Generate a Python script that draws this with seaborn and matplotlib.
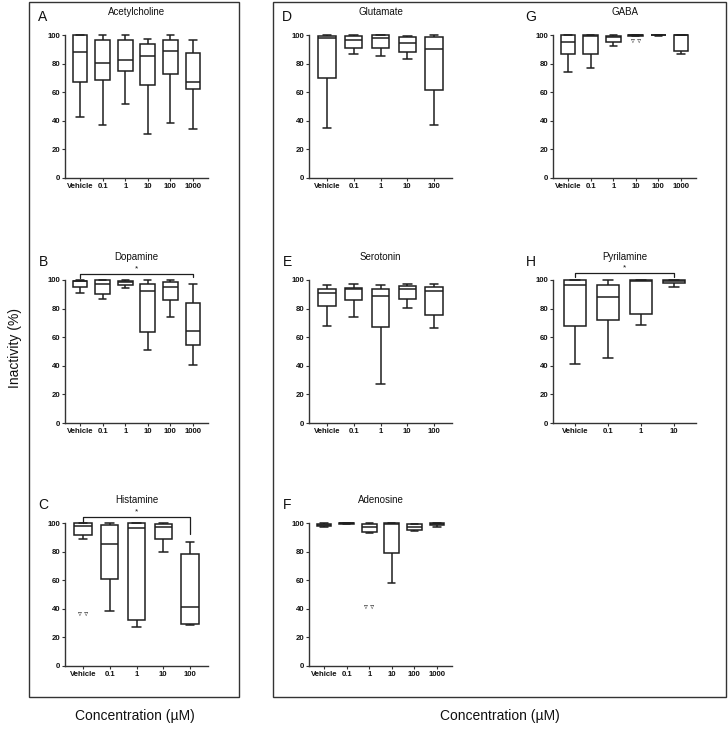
import numpy as np
import pandas as pd
import matplotlib
matplotlib.use("Agg")
import matplotlib.pyplot as plt
import seaborn as sns
from matplotlib.patches import Rectangle

sns.set_theme(style="ticks")
plt.rcParams['font.family'] = ['Liberation Sans', 'DejaVu Sans']

# ---------------- data (min, Q1, median, Q3, max) ----------------
conc6 = ["Vehicle", "0.1", "1", "10", "100", "1000"]
conc5 = conc6[:5]
conc4 = conc6[:4]

acetylcholine = [[43, 67, 88.4, 100, 100], [37, 68.4, 80.5, 96.5, 100],
                 [52, 75, 82.2, 96.3, 100], [31, 65, 85.5, 94, 97.5],
                 [38.5, 73, 88.5, 96.7, 100], [34, 62, 67, 87.3, 96.7]]
dopamine = [[90.9, 95.3, 99, 99.6, 100], [87, 90.5, 97, 100, 100],
            [94.3, 96.5, 98.8, 99.5, 100], [50.7, 63.3, 92.6, 97.2, 100],
            [74, 86.3, 95.3, 98.8, 100], [40.3, 54.3, 64.3, 84.2, 97.4]]
histamine = [[88.8, 91.5, 98, 100, 100], [38.5, 61, 85, 98.5, 100],
             [27.5, 32.5, 96.3, 100, 100], [79.8, 88.5, 97, 99.5, 100],
             [28.5, 29.6, 41.5, 78.3, 87]]
glutamate = [[35, 69.6, 98.2, 99.5, 100], [86.5, 90.7, 96.2, 99, 100],
             [85, 91, 97.8, 100, 100], [83.5, 88.3, 94.2, 98.4, 99.6],
             [37.2, 61.3, 90, 98.4, 100]]
serotonin = [[67.5, 81.9, 91, 94, 96.2], [74, 86, 93.8, 94.3, 97],
             [27, 67, 88.6, 94, 96.5], [80.3, 87, 94, 95.5, 97],
             [66.2, 75.8, 92.5, 95.4, 97]]
adenosine = [[96.9, 97.9, 98.8, 99.5, 100], [99, 99.4, 99.7, 100, 100],
             [93.2, 93.5, 97.5, 99.2, 100], [58, 79, 99.2, 99.7, 100],
             [94.6, 95.2, 97.2, 99, 99.5], [97, 98.7, 99.3, 99.7, 100]]
gaba = [[73.8, 87, 94.8, 100, 100], [76.8, 87, 99.6, 100, 100],
        [92, 95.4, 98.6, 99.6, 100], [99.5, 99.6, 99.8, 100, 100],
        [99.6, 99.7, 99.8, 100, 100], [86.5, 89, 100, 100, 100]]
pyrilamine = [[41.2, 67.5, 96.5, 99.7, 100], [45.3, 72, 88.3, 96.3, 100],
              [68.8, 76.3, 99, 100, 100], [95.3, 97.8, 99, 100, 100]]

# marks of "▿▿" (category index, value)
histamine_marks = [(0, 37)]
adenosine_marks = [(2, 42)]
gaba_marks = [(3, 96)]

# significance brackets: (start idx, end idx, bar y, left end y, right end y)
dopamine_sig = (0, 5, 104.2, 101.2, 101.8)
histamine_sig = (0, 4, 104.0, 100.2, 92.4)
pyrilamine_sig = (0, 3, 104.8, 102.0, 102.0)

LC = "#1e1e1e"

fig = plt.figure(figsize=(7.28, 7.29), dpi=100)
W, H = 728, 729


def add_panel(x0, y100, cats, summaries, letter, title, marks=(), sig=None):
    axw, axh = 143, 143
    ax = fig.add_axes([x0 / W, 1 - (y100 + axh) / H, axw / W, axh / H])
    rows = []
    for c, s in zip(cats, summaries):
        for v in s:
            rows.append({"conc": c, "value": v})
    df = pd.DataFrame(rows)
    sns.boxplot(data=df, x="conc", y="value", order=cats, ax=ax,
                whis=(0, 100), width=0.65, color="white", linecolor=LC,
                linewidth=1.1, showfliers=False, saturation=1)
    n = len(cats)
    ax.set_xlim(-0.67, n - 1 + 0.67)
    ax.set_ylim(0, 100)
    ax.set_yticks([0, 20, 40, 60, 80, 100])
    for a in ax.patches + ax.lines:
        a.set_clip_on(False)
    ax.set_xlabel("")
    ax.set_ylabel("")
    sns.despine(ax=ax)
    for sp in ("left", "bottom"):
        ax.spines[sp].set_linewidth(1.0)
        ax.spines[sp].set_color("#333333")
    ax.tick_params(axis="both", length=2.2, width=0.8, pad=1.2, labelsize=5.6,
                   color="#333333", labelcolor="#111111")
    for lab in ax.get_xticklabels() + ax.get_yticklabels():
        lab.set_fontweight("bold")
    ax.text(0.5, 1 + 23 / axh, title, transform=ax.transAxes, ha="center",
            va="center", fontsize=7, color="#111111")
    ax.text(-22 / axw, 1 + 18 / axh, letter, transform=ax.transAxes,
            ha="center", va="center", fontsize=10, color="#111111")
    for (i, y) in marks:
        ax.text(i, y, "▿ ▿", ha="center", va="center", fontsize=5.5,
                color="#222222", family=["DejaVu Sans"])
    if sig is not None:
        i0, i1, yb, yl, yr = sig
        ax.plot([i0, i0, i1, i1], [yl, yb, yb, yr], color=LC, lw=0.9,
                clip_on=False)
        ax.text((i0 + i1) / 2, yb + 1.2, "*", ha="center", va="bottom",
                fontsize=6, color="#111111")
    return ax


add_panel(65, 35, conc6, acetylcholine, "A", "Acetylcholine")
add_panel(65, 280, conc6, dopamine, "B", "Dopamine", sig=dopamine_sig)
add_panel(65, 523, conc5, histamine, "C", "Histamine", marks=histamine_marks,
          sig=histamine_sig)
add_panel(309, 35, conc5, glutamate, "D", "Glutamate")
add_panel(309, 280, conc5, serotonin, "E", "Serotonin")
add_panel(309, 523, conc6, adenosine, "F", "Adenosine", marks=adenosine_marks)
add_panel(553, 35, conc6, gaba, "G", "GABA", marks=gaba_marks)
add_panel(553, 280, conc4, pyrilamine, "H", "Pyrilamine", sig=pyrilamine_sig)

# outer frames
fig.add_artist(Rectangle((29 / W, 1 - 697 / H), 210 / W, 695 / H,
                         transform=fig.transFigure, fill=False,
                         edgecolor="#333333", lw=1.0))
fig.add_artist(Rectangle((273 / W, 1 - 697 / H), 453 / W, 695 / H,
                         transform=fig.transFigure, fill=False,
                         edgecolor="#333333", lw=1.0))

fig.text(135 / W, 1 - 716 / H, "Concentration (µM)", ha="center",
         va="center", fontsize=10, color="#111111")
fig.text(500 / W, 1 - 716 / H, "Concentration (µM)", ha="center",
         va="center", fontsize=10, color="#111111")
fig.text(15 / W, 1 - 348 / H, "Inactivity (%)", ha="center", va="center",
         rotation=90, fontsize=10, color="#111111")

fig.savefig("out.png", dpi=100)
